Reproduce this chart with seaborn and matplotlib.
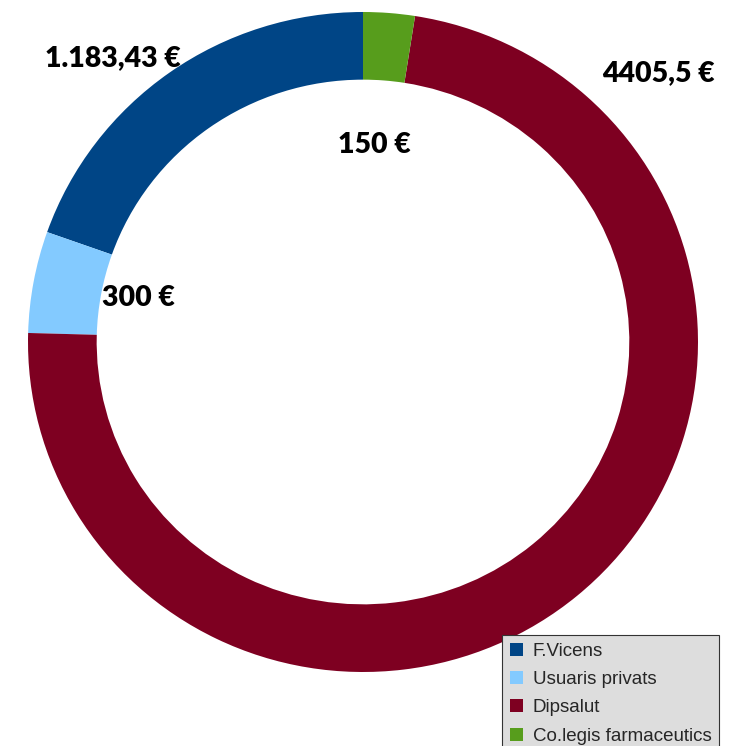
import matplotlib
matplotlib.use("Agg")
import matplotlib.pyplot as plt
import seaborn as sns

# data
categories = ["F.Vicens", "Usuaris privats", "Dipsalut", "Co.legis farmaceutics"]
amounts = [1183.43, 300, 4405.5, 150]
value_labels = ["1.183,43 €", "300 €", "4405,5 €", "150 €"]
colors = ["#004586", "#83caff", "#7e0021", "#579d1c"]

sns.set_theme(style="white")
plt.rcParams["font.family"] = ["Liberation Sans", "DejaVu Sans"]

fig = plt.figure(figsize=(7.45, 7.46), dpi=100)
W, H = 745, 746
# donut area in pixels: x 28..698, y 12..672
ax = fig.add_axes([28 / W, (H - 672) / H, 670 / W, 660 / H])

wedges, _ = ax.pie(
    amounts,
    colors=colors,
    startangle=90,
    counterclock=True,
    radius=1,
    wedgeprops=dict(width=0.205, linewidth=0),
)
ax.set_aspect("auto")
ax.set_xlim(-1, 1)
ax.set_ylim(-1, 1)
ax.axis("off")

# value labels (pixel centres)
label_pos = [(113, 58), (138, 298), (658, 73), (374, 145)]
for txt, (px, py) in zip(value_labels, label_pos):
    fig.text(px / W, 1 - py / H, txt, ha="center", va="center",
             fontsize=20.5, fontweight="heavy", family=["Lato", "DejaVu Sans"],
             color="black")

leg = fig.legend(
    wedges, categories,
    loc="upper left",
    bbox_to_anchor=(502 / W, 1 - 635 / H),
    frameon=True,
    fancybox=False,
    fontsize=13.5,
    handlelength=0.7,
    handleheight=0.7,
    handletextpad=0.55,
    labelspacing=0.6,
    borderpad=0.4,
    borderaxespad=0,
)
frame = leg.get_frame()
frame.set_facecolor("#dddddd")
frame.set_edgecolor("#333333")
frame.set_linewidth(0.8)
frame.set_alpha(1)

fig.savefig("out.png", dpi=100)
